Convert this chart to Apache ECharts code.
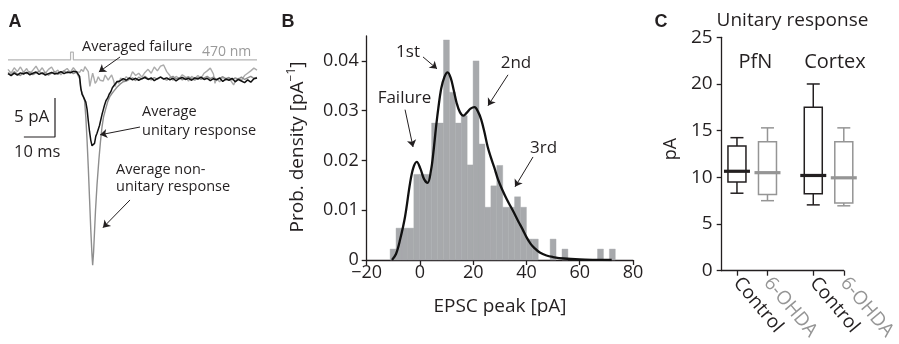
<!DOCTYPE html>
<html>
<head>
<meta charset="utf-8">
<script src="https://cdn.jsdelivr.net/npm/echarts@6/dist/echarts.min.js"></script>
<style>html,body{margin:0;padding:0;background:#fff}#c{width:899px;height:344px}</style>
</head>
<body>
<div id="c"></div>
<script>
// ---------- Panel A data (time ms, current pA) ----------
const stimTrace = [[0,1.8],[20.1,1.8],[20.1,2.8],[21.0,2.8],[21.0,1.8],[80,1.8]];
const failureTrace = [
[0,0.6],[1,0.1],[2,0.8],[3,0.3],[4,0.9],[5,0.2],[6,0.7],[7,0.0],[8,0.5],[9,1.0],[10,0.3],[11,0.8],[12,0.1],[13,0.6],[14,0.9],[15,0.2],[16,0.5],[17,-0.1],[18,0.4],[19,0.7],[20,0.2],[21,0.8],[22,0.3],
[23,0.2],[23.6,0.6],[24.2,0.3],[24.7,0.95],[25.3,0.6],[25.8,0.3],[26.3,-1.6],[26.8,-0.6],[27.2,0.1],[27.6,-0.5],[28,-1.2],[28.5,-0.9],[29,-0.35],[29.6,-0.8],[30.1,-0.55],[30.6,-0.9],[31.2,-0.13],[31.7,-0.45],[32.2,-0.77],[32.8,-0.4],[33.3,-0.13],[33.9,-0.8],[34.4,-1.6],[35,-0.9],[35.6,-1.2],[36.2,-0.5],[37,-0.9],[38,-0.35],[39,-0.7],
[40,0.3],[41,-0.2],[42,0.1],[43,-0.4],[44,0.2],[45,0.6],[46,0.1],[47,0.9],[48,0.4],[49,1.0],[50,1.15],[51,0.3],[52,-0.2],[53,-0.8],[54,-0.3],[55,-0.6],[56,-0.1],[57,-0.4],[58,-0.9],[59,-0.3],[60,-0.6],[61,-0.2],[62,-0.55],[63,0.1],[64,0.4],[65,0.75],[66,0.0],[66.5,-1.2],[67,-0.6],[68,-1.0],[69,-0.4],[70,-0.8],[71,-0.5],[72,-1.1],[72.5,-1.4],[73,-0.9],[74,-0.55],[75,-0.8],[76,-0.2],[77,0.1],[78,0.4],[79,0.75],[80,0.5]];
const nonUnitaryTrace = [
[0,0.2],[1,-0.1],[2,0.3],[3,0.0],[4,-0.2],[5,0.25],[6,0.05],[7,0.3],[8,-0.1],[9,0.15],[10,0.35],[11,0.0],[12,0.2],[13,-0.15],[14,0.1],[15,0.3],[16,-0.05],[17,0.2],[18,0.4],[19,0.1],[20,0.3],[21,0.05],[22,0.25],
[22.5,0.2],[23,-0.6],[23.4,-2.0],[23.8,-2.4],[24.2,-2.6],[24.6,-3.4],[25,-5.5],[25.4,-8.5],[25.8,-12.0],[26.2,-16.0],[26.6,-20.0],[27,-23.3],[27.2,-24.5],[27.5,-22.8],[27.8,-20.2],[28.1,-17.6],[28.6,-14.2],[29.2,-11.0],[29.7,-8.7],[30.2,-6.8],[30.7,-5.5],[31.3,-4.6],[32,-3.6],[32.7,-2.9],[33.4,-2.5],[34,-2.2],[35,-1.7],[36,-1.3],[37,-1.0],[38,-0.9],
[39,-0.7],[40,-0.5],[41,-0.85],[42,-0.4],[43,-0.65],[44,-0.3],[45,-0.6],[46,-0.75],[47,-0.45],[48,-0.7],[49,-0.35],[50,-0.6],[51,-0.8],[52,-0.5],[53,-0.3],[54,-0.65],[55,-0.45],[56,-0.75],[57,-0.5],[58,-0.35],[59,-0.6],[60,-0.8],[61,-0.45],[62,-0.7],[63,-0.5],[64,-0.3],[65,-0.6],[66,-0.4],[67,-0.7],[68,-0.55],[69,-0.35],[70,-0.6],[71,-0.45],[72,-0.75],[73,-0.5],[74,-0.65],[75,-0.4],[76,-0.7],[77,-0.5],[78,-0.3],[79,-0.55],[80,-0.45]];
const unitaryTrace = [
[0,0.05],[1,-0.2],[2,0.1],[3,-0.15],[4,0.15],[5,0.0],[6,0.2],[7,-0.1],[8,0.1],[9,0.25],[10,-0.05],[11,0.15],[12,-0.15],[13,0.05],[14,0.2],[15,0.0],[16,0.1],[17,0.3],[18,0.05],[19,0.25],[20,0.15],[21,0.35],[22,0.3],
[22.5,0.3],[23,-0.3],[23.4,-1.8],[23.8,-2.6],[24.2,-2.9],[24.6,-3.0],[25,-3.6],[25.4,-4.5],[25.8,-6.0],[26.2,-7.4],[26.6,-8.5],[27,-9.2],[27.4,-9.4],[27.8,-8.9],[28.2,-8.0],[28.6,-7.6],[29,-7.4],[29.4,-6.6],[29.8,-5.9],[30.2,-5.2],[30.6,-4.6],[31,-4.0],[31.5,-3.4],[32,-3.1],[32.5,-2.6],[33,-2.3],[33.5,-1.8],[34,-1.5],[34.5,-1.3],[35,-1.0],[35.5,-0.8],[36,-0.9],[37,-0.6],[38,-0.8],
[39,-0.5],[40,-0.75],[41,-0.55],[42,-0.8],[43,-0.6],[44,-0.45],[45,-0.7],[46,-0.5],[47,-0.85],[48,-0.6],[49,-0.4],[50,-0.65],[51,-0.5],[52,-0.75],[53,-0.55],[54,-0.9],[55,-0.6],[56,-0.45],[57,-0.7],[58,-0.55],[59,-0.8],[60,-0.5],[61,-0.65],[62,-0.4],[63,-0.7],[64,-0.55],[65,-0.85],[66,-0.6],[67,-0.75],[68,-0.5],[69,-0.95],[70,-0.65],[71,-0.8],[72,-0.55],[73,-1.0],[74,-0.7],[75,-0.9],[76,-1.1],[77,-0.75],[78,-1.05],[79,-0.6],[80,-0.5]];
const scaleBar = [[15.1,-3.08],[15.1,-8.08],[5.1,-8.08]]; // 5 pA, 10 ms
const arrowsA = [[[36.0,2.18],[29.2,0.26]],[[42.4,-6.8],[29.6,-7.8]],[[39.2,-16.15],[30.5,-19.7]]];

// ---------- Panel B data ----------
const binEdges = [-11.2,-8.98,-6.75,-4.53,-2.3,-0.08,2.15,4.38,6.6,8.83,11.05,13.28,15.5,17.73,19.95,22.18,24.4,26.63,28.85,31.08,33.3,35.53,37.75,39.98,42.2,44.43,46.65,48.88,51.1,53.33,55.55,57.78,60.0,62.23,64.45,66.68,68.9,71.13,73.35];
const binDensity = [0.0022,0.0064,0.0064,0.0064,0.0172,0.0172,0.0172,0.0275,0.0275,0.0442,0.0337,0.0275,0.0290,0.0191,0.0400,0.0233,0.0106,0.0149,0.0190,0.0106,0.0106,0.0127,0.0106,0.0042,0.0042,0,0,0.0042,0,0.0022,0,0,0,0,0,0.0022,0,0.0022];
const kdeCurve = [[-10.5,0],[-9,0.0012],[-7.5,0.004],[-5.6,0.0087],[-3.7,0.0155],[-2.5,0.0185],[-1.2,0.0197],[0.2,0.0183],[1.5,0.0163],[2.9,0.0155],[4.2,0.0182],[5.0,0.0214],[6.0,0.0265],[6.9,0.0305],[8.0,0.0345],[9.2,0.0368],[10.4,0.0377],[11.6,0.0365],[12.6,0.0343],[13.8,0.0315],[15.0,0.0297],[16.3,0.029],[17.6,0.0296],[19.0,0.0304],[20.5,0.0307],[21.8,0.0298],[23.0,0.0282],[24.2,0.0257],[25.4,0.0228],[26.5,0.0208],[27.9,0.0186],[29.3,0.0162],[31.0,0.014],[32.5,0.0123],[34.0,0.0108],[35.5,0.0093],[37.0,0.0077],[38.5,0.0062],[40.0,0.0046],[41.5,0.0033],[43.0,0.0024],[45.0,0.0015],[47.5,0.0009],[50,0.0006],[54,0.0003],[60,0.0001],[66,0.00003],[72,0]];
const arrowsB = [[[1.14,0.0408],[6.4,0.0384]],[[-5.6,0.0302],[-2.6,0.0227]],[[33.06,0.0372],[25.55,0.031]],[[42.45,0.0207],[35.7,0.0147]]];
const yTicksB = [0,0.01,0.02,0.03,0.04];

// ---------- Panel C data ----------
const groupNames = ['Control','6-OHDA','Control','6-OHDA'];
const groupPos = [1,2,3.5,4.5];
const whiskerLow = [8.3,7.5,7.05,6.95];
const q1 = [9.5,8.15,8.25,7.25];
const median = [10.65,10.5,10.2,9.95];
const q3 = [13.35,13.8,17.5,13.8];
const whiskerHigh = [14.25,15.3,20.0,15.3];

// ---------- styles ----------
const FONT = "'Open Sans', sans-serif";
const INK = '#231f20';
const GRAY = '#959595';
const groupColors = [INK, GRAY, INK, GRAY];

const chart = echarts.init(document.getElementById('c'), null, {renderer:'canvas'});

const histData = binDensity.map((d,i)=>[binEdges[i], binEdges[i+1], d]);
const boxData = groupPos.map((p,i)=>[p, whiskerLow[i], q1[i], median[i], q3[i], whiskerHigh[i], i]);

function arrowMark(list){
  return {
    silent:true, symbol:['none','arrow'], symbolSize:7, animation:false,
    label:{show:false},
    lineStyle:{color:INK, width:1, type:'solid'},
    emphasis:{disabled:true},
    data:list.map(a=>[{coord:a[0]},{coord:a[1]}])
  };
}
function txt(x,y,text,size,opt){
  opt = opt||{};
  return {type:'text', x:x, y:y, rotation:opt.rot||0, silent:true,
    style:Object.assign({text:text, fontSize:size, fontFamily:opt.family||FONT, fontWeight:opt.weight||'normal',
      fill:opt.color||INK, align:opt.align||'center', verticalAlign:'middle'}, opt.style||{})};
}

const option = {
  animation:false,
  backgroundColor:'#ffffff',
  grid:[
    {left:8, top:42.8, width:249, height:234},
    {left:366.7, top:36, width:266.3, height:224},
    {left:721.7, top:37.3, width:145, height:233.4}
  ],
  xAxis:[
    {gridIndex:0, type:'value', min:0, max:80, show:false},
    {gridIndex:1, type:'value', min:-20, max:80, interval:20,
      axisLine:{onZero:false, lineStyle:{color:INK, width:1.3}},
      axisTick:{length:5, lineStyle:{color:INK, width:1.3}},
      splitLine:{show:false},
      axisLabel:{color:INK, fontSize:18, fontFamily:FONT, margin:4,
        formatter:v=> v<0 ? '\u2212'+Math.abs(v) : String(v)}},
    {gridIndex:2, type:'value', min:0.5, max:4.5,
      axisLine:{onZero:false, lineStyle:{color:INK, width:1.3}},
      axisTick:{length:5, lineStyle:{color:INK, width:1.3}, customValues:groupPos},
      splitLine:{show:false},
      axisLabel:{customValues:groupPos, rotate:-50, margin:9, showMinLabel:true, showMaxLabel:true,
        formatter:v=>{const i=groupPos.indexOf(v); return i%2===0 ? '{k|'+groupNames[i]+'}' : '{g|'+groupNames[i]+'}';},
        rich:{k:{color:INK, fontSize:19, fontFamily:FONT}, g:{color:GRAY, fontSize:19, fontFamily:FONT}}}}
  ],
  yAxis:[
    {gridIndex:0, type:'value', min:-26, max:4, show:false},
    {gridIndex:1, type:'value', min:0, max:0.045, interval:0.01,
      axisLine:{show:true, onZero:false, lineStyle:{color:INK, width:1.3}},
      axisTick:{show:true, length:5, lineStyle:{color:INK, width:1.3}, customValues:yTicksB},
      splitLine:{show:false},
      axisLabel:{customValues:yTicksB, color:INK, fontSize:18, fontFamily:FONT, margin:8,
        formatter:v=> v===0 ? '0' : v.toFixed(2)}},
    {gridIndex:2, type:'value', min:0, max:25, interval:5,
      axisLine:{show:true, onZero:false, lineStyle:{color:INK, width:1.3}},
      axisTick:{show:true, length:5, lineStyle:{color:INK, width:1.3}},
      splitLine:{show:false},
      axisLabel:{color:INK, fontSize:19, fontFamily:FONT, margin:9}}
  ],
  series:[
    {type:'line', xAxisIndex:0, yAxisIndex:0, data:stimTrace, showSymbol:false, symbol:'none',
      lineStyle:{color:'#b5b5b5', width:1.2}, markLine:arrowMark(arrowsA), z:2},
    {type:'line', xAxisIndex:0, yAxisIndex:0, data:failureTrace, showSymbol:false, symbol:'none',
      lineStyle:{color:'#ababab', width:1.4}, z:3},
    {type:'line', xAxisIndex:0, yAxisIndex:0, data:nonUnitaryTrace, showSymbol:false, symbol:'none',
      lineStyle:{color:'#8e8e8e', width:1.4}, z:4},
    {type:'line', xAxisIndex:0, yAxisIndex:0, data:unitaryTrace, showSymbol:false, symbol:'none',
      lineStyle:{color:'#111111', width:1.5}, z:5},
    {type:'line', xAxisIndex:0, yAxisIndex:0, data:scaleBar, showSymbol:false, symbol:'none',
      lineStyle:{color:INK, width:1.2}, z:5},
    {type:'custom', xAxisIndex:1, yAxisIndex:1, data:histData, encode:{x:[0,1], y:2}, z:2,
      renderItem:(params, api)=>{
        const h = api.value(2); if(!h) return null;
        const p0 = api.coord([api.value(0), h]); const p1 = api.coord([api.value(1), 0]);
        return {type:'rect', shape:{x:p0[0], y:p0[1], width:p1[0]-p0[0], height:p1[1]-p0[1]},
          style:{fill:'#a7a9ac', stroke:'#a7a9ac', lineWidth:0.4}};
      }},
    {type:'line', xAxisIndex:1, yAxisIndex:1, data:kdeCurve, smooth:0.35, showSymbol:false, symbol:'none',
      lineStyle:{color:'#111111', width:2.3}, markLine:arrowMark(arrowsB), z:4},
    {type:'custom', xAxisIndex:2, yAxisIndex:2, data:boxData, encode:{x:0, y:[1,5]}, z:3,
      renderItem:(params, api)=>{
        const x = api.value(0), c = groupColors[api.value(6)];
        const lo = api.coord([x, api.value(1)]), b1 = api.coord([x, api.value(2)]),
              md = api.coord([x, api.value(3)]), b3 = api.coord([x, api.value(4)]), hi = api.coord([x, api.value(5)]);
        const cx = lo[0], bw = 9, mw = 13, cw = 6.5;
        const ls = {stroke:c, lineWidth:1.5, fill:null};
        return {type:'group', children:[
          {type:'line', shape:{x1:cx, y1:lo[1], x2:cx, y2:b1[1]}, style:ls},
          {type:'line', shape:{x1:cx, y1:b3[1], x2:cx, y2:hi[1]}, style:ls},
          {type:'line', shape:{x1:cx-cw, y1:lo[1], x2:cx+cw, y2:lo[1]}, style:ls},
          {type:'line', shape:{x1:cx-cw, y1:hi[1], x2:cx+cw, y2:hi[1]}, style:ls},
          {type:'rect', shape:{x:cx-bw, y:b3[1], width:2*bw, height:b1[1]-b3[1]}, style:{stroke:c, lineWidth:1.5, fill:'#fff'}},
          {type:'line', shape:{x1:cx-mw, y1:md[1], x2:cx+mw, y2:md[1]}, style:{stroke:c, lineWidth:3.2}}
        ]};
      }}
  ],
  graphic:[
    txt(15,22,'A',18,{weight:'bold', family:"'Liberation Sans', Arial, sans-serif"}),
    txt(288,22,'B',18,{weight:'bold', family:"'Liberation Sans', Arial, sans-serif"}),
    txt(661,22,'C',18,{weight:'bold', family:"'Liberation Sans', Arial, sans-serif"}),
    txt(82,47,'Averaged failure',14.5,{align:'left'}),
    txt(202,52,'470 nm',14,{align:'left', color:'#9a9a9a'}),
    txt(14,117,'5 pA',17,{align:'left'}),
    txt(14,152,'10 ms',16.5,{align:'left'}),
    txt(142,112,'Average',14.5,{align:'left'}),
    txt(142,131,'unitary response',14.5,{align:'left'}),
    txt(116,170,'Average non-',14.5,{align:'left'}),
    txt(116,187,'unitary response',14.5,{align:'left'}),
    txt(408,52,'1st',17),
    txt(404.5,98,'Failure',17),
    txt(516,63,'2nd',17),
    txt(543.5,148,'3rd',17),
    txt(500,307,'EPSC peak [pA]',19),
    {type:'text', x:298, y:147, rotation:Math.PI/2, silent:true,
      style:{text:'{a|Prob. density [pA}{b|\u22121}{a|]}', fill:INK, align:'center', verticalAlign:'middle',
        rich:{a:{fontSize:19, fontFamily:FONT, color:INK, lineHeight:24},
              b:{fontSize:12, fontFamily:FONT, color:INK, verticalAlign:'top', lineHeight:24}}}},
    txt(792.5,21,'Unitary response',19),
    txt(755.5,62,'PfN',20),
    txt(835,62,'Cortex',20),
    txt(671,149,'pA',18,{rot:Math.PI/2})
  ]
};
chart.setOption(option);
</script>
</body>
</html>
